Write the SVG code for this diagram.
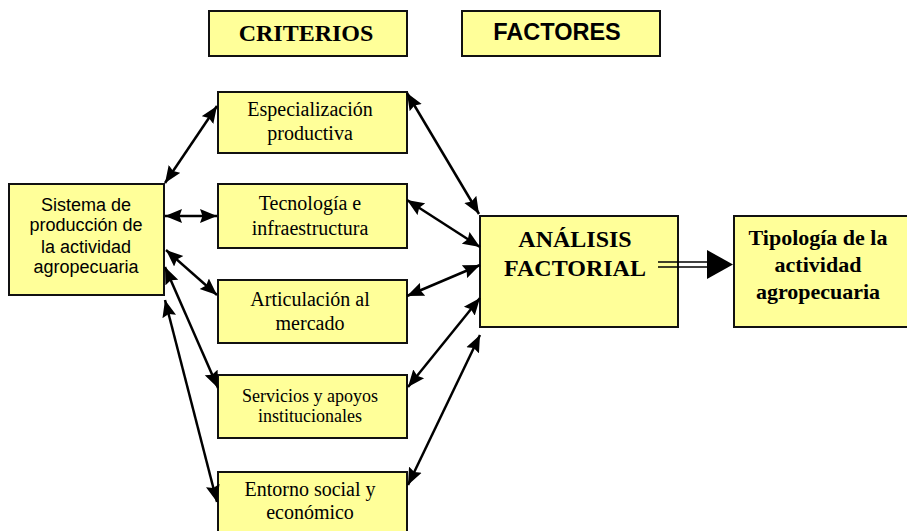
<svg xmlns="http://www.w3.org/2000/svg" width="907" height="531" viewBox="0 0 907 531">
<defs>
<style>
.box{fill:#FFFF99;stroke:#111;stroke-width:2}
.serif{font-family:"Liberation Serif","Times New Roman",serif;fill:#000;text-anchor:middle}
.sans{font-family:"Liberation Sans",Arial,sans-serif;fill:#000;text-anchor:middle}
.b{font-weight:bold}
.con{stroke:#000;stroke-width:2.5;fill:none;marker-start:url(#ah);marker-end:url(#ah)}
.dbl{stroke:#000;stroke-width:1.6}
</style>
<marker id="ah" markerUnits="userSpaceOnUse" markerWidth="18" markerHeight="15" refX="17" refY="7" orient="auto-start-reverse" viewBox="0 0 18 14">
<path d="M0,0 L17,7 L0,14 L2.5,7 z" fill="#000"/>
</marker>
</defs>
<rect width="907" height="531" fill="#fff"/>

<g id="criterios">
<rect class="box" x="209" y="11" width="198" height="45"/>
<text class="serif b" x="306" y="41" font-size="24">CRITERIOS</text>
</g>
<g id="factores">
<rect class="box" x="462" y="11" width="198" height="45"/>
<text class="sans b" x="557" y="40" font-size="23.5">FACTORES</text>
</g>

<g id="sistema">
<rect class="box" x="9" y="184" width="155" height="111"/>
<text class="sans" font-size="18" x="86"><tspan x="86" y="211">Sistema de</tspan><tspan x="86" y="231">producción de</tspan><tspan x="86" y="253">la actividad</tspan><tspan x="86" y="273">agropecuaria</tspan></text>
</g>

<g id="especializacion">
<rect class="box" x="218" y="92" width="189" height="61"/>
<text class="serif" font-size="20"><tspan x="310" y="116">Especialización</tspan><tspan x="310" y="140">productiva</tspan></text>
</g>
<g id="tecnologia">
<rect class="box" x="218" y="184" width="189" height="64"/>
<text class="serif" font-size="20"><tspan x="310" y="210">Tecnología e</tspan><tspan x="310" y="235">infraestructura</tspan></text>
</g>
<g id="articulacion">
<rect class="box" x="218" y="280" width="189" height="63"/>
<text class="serif" font-size="20"><tspan x="310" y="306">Articulación al</tspan><tspan x="310" y="330">mercado</tspan></text>
</g>
<g id="servicios">
<rect class="box" x="218" y="375" width="189" height="63"/>
<text class="serif" font-size="18"><tspan x="310" y="402">Servicios y apoyos</tspan><tspan x="310" y="422">institucionales</tspan></text>
</g>
<g id="entorno">
<rect class="box" x="218" y="472" width="189" height="70"/>
<text class="serif" font-size="20"><tspan x="310" y="496">Entorno social y</tspan><tspan x="310" y="519">económico</tspan></text>
</g>

<g id="analisis">
<rect class="box" x="480" y="216" width="198" height="111"/>
<text class="serif b" font-size="24"><tspan x="575" y="247">ANÁLISIS</tspan><tspan x="575" y="276">FACTORIAL</tspan></text>
</g>
<g id="tipologia">
<rect class="box" x="734" y="216" width="185" height="111"/>
<text class="serif b" font-size="22"><tspan x="818" y="245">Tipología de la</tspan><tspan x="818" y="272">actividad</tspan><tspan x="818" y="299">agropecuaria</tspan></text>
</g>

<g id="connectors">
<line class="con" x1="165" y1="183" x2="217" y2="106"/>
<line class="con" x1="165" y1="216" x2="217" y2="216"/>
<line class="con" x1="166" y1="250" x2="217" y2="295"/>
<line class="con" x1="165" y1="267" x2="218" y2="388"/>
<line class="con" x1="165" y1="300" x2="217" y2="502"/>
<line class="con" x1="407" y1="93" x2="479" y2="214"/>
<line class="con" x1="407" y1="200" x2="480" y2="247"/>
<line class="con" x1="407" y1="296" x2="480" y2="265"/>
<line class="con" x1="408" y1="387" x2="480" y2="298"/>
<line class="con" x1="408" y1="485" x2="480" y2="335"/>
<line class="dbl" x1="658" y1="262" x2="709" y2="262"/>
<line class="dbl" x1="658" y1="267" x2="709" y2="267"/>
<path d="M707,250 L733,264.5 L707,279 z" fill="#000"/>
</g>
</svg>
